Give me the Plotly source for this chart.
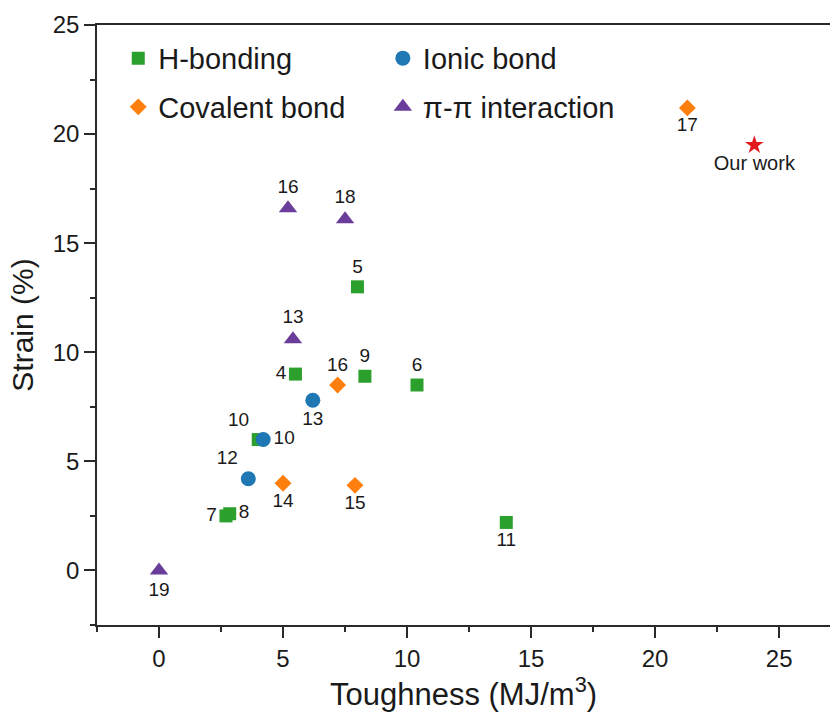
import plotly.graph_objects as go

# Toughness (MJ/m^3), strain (%) and reference numbers for each bonding type
h_x = [8.0, 5.5, 8.3, 10.4, 4.0, 2.7, 2.85, 14.0]
h_y = [13.0, 9.0, 8.9, 8.5, 6.0, 2.5, 2.6, 2.2]
h_lbl = ["5", "4", "9", "6", "10", "7", "8", "11"]
h_pos = ["top center", "middle left", "top center", "top center",
         "top left", "middle left", "middle right", "bottom center"]

ion_x = [6.2, 4.2, 3.6]
ion_y = [7.8, 6.0, 4.2]
ion_lbl = ["13", "10", "12"]
ion_pos = ["bottom center", "middle right", "top left"]

cov_x = [21.3, 7.2, 5.0, 7.9]
cov_y = [21.2, 8.5, 4.0, 3.9]
cov_lbl = ["17", "16", "14", "15"]
cov_pos = ["bottom center", "top center", "bottom center", "bottom center"]

pi_x = [5.2, 7.5, 5.4, 0.0]
pi_y = [16.6, 16.1, 10.6, 0.0]
pi_lbl = ["16", "18", "13", "19"]
pi_pos = ["top center", "top center", "top center", "bottom center"]

ours_x = [24.0]
ours_y = [19.5]
ours_lbl = ["Our work"]

FONT = "Liberation Sans, Arial, sans-serif"
INK = "#1a1a1a"
LBL = dict(family=FONT, size=19, color=INK)

fig = go.Figure()

fig.add_trace(go.Scatter(
    x=h_x, y=h_y, text=h_lbl, textposition=h_pos, mode="markers+text",
    name="H-bonding", legend="legend", legendgroup="h",
    marker=dict(symbol="square", size=13, color="#2ca02c"), textfont=LBL))
fig.add_trace(go.Scatter(
    x=ion_x, y=ion_y, text=ion_lbl, textposition=ion_pos, mode="markers+text",
    name="Ionic bond", legend="legend2", legendgroup="ion",
    marker=dict(symbol="circle", size=15, color="#1f77b4"), textfont=LBL))
fig.add_trace(go.Scatter(
    x=cov_x, y=cov_y, text=cov_lbl, textposition=cov_pos, mode="markers+text",
    name="Covalent bond", legend="legend", legendgroup="cov",
    marker=dict(symbol="diamond", size=13, color="#ff7f0e"), textfont=LBL))
fig.add_trace(go.Scatter(
    x=pi_x, y=pi_y, text=pi_lbl, textposition=pi_pos, mode="markers+text",
    name="π-π interaction", legend="legend2", legendgroup="pi",
    marker=dict(symbol="triangle-up", size=16, color="#6a3d9a"), textfont=LBL))
fig.add_trace(go.Scatter(
    x=ours_x, y=ours_y, text=ours_lbl, textposition="bottom center",
    mode="markers+text", showlegend=False,
    marker=dict(symbol="star", size=14, color="#e31a1c"),
    textfont=dict(family=FONT, size=20, color=INK)))

axis_common = dict(
    showline=True, linecolor="#2a2a2a", linewidth=1.6,
    ticks="outside", ticklen=11, tickwidth=1.6, tickcolor="#2a2a2a",
    tickfont=dict(family=FONT, size=24, color=INK),
    showgrid=False, zeroline=False,
    minor=dict(ticks="outside", ticklen=5, tickwidth=1.6, tickcolor="#2a2a2a",
               dtick=2.5, showgrid=False),
)

fig.update_xaxes(
    range=[-2.5, 27.05], dtick=5, tick0=0, mirror=True,
    title=dict(text="Toughness (MJ/m<sup>3</sup>)",
               font=dict(family=FONT, size=31, color=INK), standoff=11),
    **axis_common)
fig.update_yaxes(
    range=[-2.5, 25], dtick=5, tick0=0,
    title=dict(text="Strain (%)",
               font=dict(family=FONT, size=30, color=INK), standoff=10),
    **axis_common)

leg_common = dict(
    orientation="v", xanchor="left", yanchor="top", bgcolor="rgba(0,0,0,0)",
    font=dict(family=FONT, size=29, color=INK), tracegroupgap=8,
    itemclick=False, itemdoubleclick=False)

fig.update_layout(
    width=830, height=724,
    margin=dict(l=97, r=0, t=25, b=99),
    paper_bgcolor="white", plot_bgcolor="white",
    legend=dict(x=0.029, y=0.987, **leg_common),
    legend2=dict(x=0.390, y=0.987, **leg_common),
)

fig.write_html("out.html")
